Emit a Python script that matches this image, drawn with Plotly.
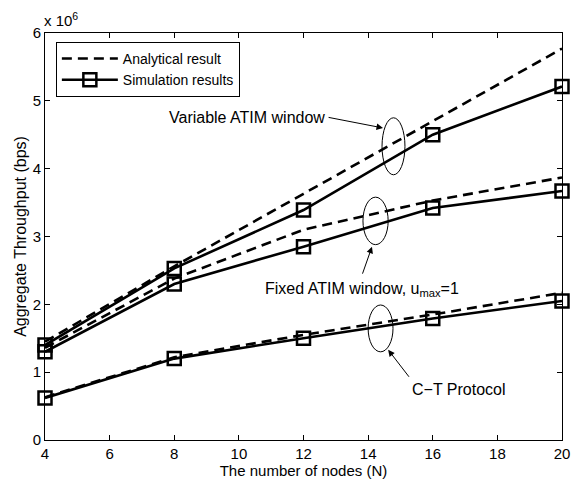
import plotly.graph_objects as go

nodes = [4, 8, 12, 16, 20]
var_analytical = [1.45, 2.56, 3.63, 4.70, 5.77]
var_simulation = [1.40, 2.53, 3.39, 4.50, 5.21]
fix_analytical = [1.36, 2.38, 3.10, 3.53, 3.87]
fix_simulation = [1.30, 2.30, 2.85, 3.42, 3.67]
ct_analytical = [0.63, 1.22, 1.55, 1.85, 2.17]
ct_simulation = [0.62, 1.20, 1.50, 1.79, 2.05]

FAM = "Liberation Sans, Arial, sans-serif"
fig = go.Figure()
LW = 2.6
dash = "10px,6px"
pairs = [(var_analytical, var_simulation), (fix_analytical, fix_simulation), (ct_analytical, ct_simulation)]
for i, (a, s) in enumerate(pairs):
    fig.add_trace(go.Scatter(x=nodes, y=a, mode="lines", name="Analytical result",
                             line=dict(color="black", width=LW, dash=dash),
                             showlegend=(i == 0), legendrank=1, cliponaxis=False))
for i, (a, s) in enumerate(pairs):
    fig.add_trace(go.Scatter(x=nodes, y=s, mode="lines+markers", name="Simulation results",
                             line=dict(color="black", width=LW),
                             marker=dict(symbol="square-open", size=13, color="black",
                                         line=dict(width=2.5, color="black")),
                             showlegend=(i == 0), legendrank=2, cliponaxis=False))

# ellipses
ells = [(14.43, 15.14, 3.91, 4.75), (13.84, 14.62, 2.88, 3.58), (14.0, 14.77, 1.30, 1.99)]
for x0, x1, y0, y1 in ells:
    fig.add_shape(type="circle", xref="x", yref="y", x0=x0, x1=x1, y0=y0, y1=y1,
                  line=dict(color="black", width=1))

font = dict(family=FAM, size=16, color="black")
# arrows
arrows = [((14.46, 4.60), (12.73, 4.76)), ((14.12, 2.85), (13.81, 2.43)), ((14.62, 1.33), (15.30, 0.91))]
for (hx, hy), (tx, ty) in arrows:
    fig.add_annotation(x=hx, y=hy, ax=tx, ay=ty, xref="x", yref="y", axref="x", ayref="y",
                       text="", showarrow=True, arrowhead=2, arrowsize=1.3, arrowwidth=1,
                       arrowcolor="black", standoff=0, startstandoff=0)

fig.add_annotation(x=12.73, y=4.76, xref="x", yref="y", text="Variable ATIM window",
                   showarrow=False, xanchor="right", yanchor="middle", font=font)
fig.add_annotation(x=10.75, y=2.22, xref="x", yref="y", text="Fixed ATIM window, u<sub>max</sub>=1",
                   showarrow=False, xanchor="left", yanchor="middle", font=font)
fig.add_annotation(x=15.30, y=0.74, xref="x", yref="y", text="C\u2212T Protocol",
                   showarrow=False, xanchor="left", yanchor="middle", font=font)
fig.add_annotation(x=0, y=1.0, xref="paper", yref="paper", text="x 10<sup>6</sup>",
                   showarrow=False, xanchor="left", yanchor="bottom", yshift=2, xshift=-3,
                   font=dict(family=FAM, size=15, color="black"))

axis_common = dict(showline=True, linecolor="black", linewidth=1, mirror="ticks", ticks="inside",
                   ticklen=5, tickcolor="black", showgrid=False, zeroline=False, automargin=False,
                   tickfont=dict(family=FAM, size=15, color="black"))
fig.update_xaxes(range=[4, 20], tickvals=[4, 6, 8, 10, 12, 14, 16, 18, 20],
                 title=dict(text="The number of nodes (N)", standoff=2,
                            font=dict(family=FAM, size=15, color="black")),
                 **axis_common)
fig.update_yaxes(range=[0, 6], tickvals=[0, 1, 2, 3, 4, 5, 6],
                 title=dict(text="Aggregate Throughput (bps)", standoff=2,
                            font=dict(family=FAM, size=16, color="black")),
                 **axis_common)

fig.update_layout(width=573, height=482, margin=dict(l=45, r=11, t=33, b=42),
                  plot_bgcolor="white", paper_bgcolor="white",
                  legend=dict(x=0.021, y=0.978, xanchor="left", yanchor="top",
                              bordercolor="black", borderwidth=1, bgcolor="white",
                              font=dict(family=FAM, size=14, color="black"),
                              tracegroupgap=0, itemwidth=56),
                  font=font)

fig.write_html("out.html")
